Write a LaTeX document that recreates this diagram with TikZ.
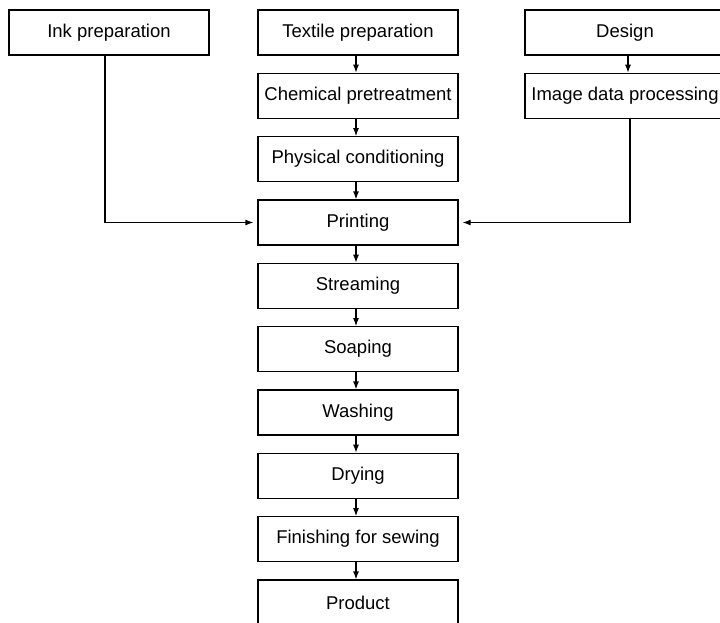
\documentclass[tikz,border=0pt]{standalone}
\usepackage{fontspec}
\setmainfont{Liberation Sans}
\usetikzlibrary{arrows.meta}
\begin{document}
\begin{tikzpicture}[x=1pt,y=-1pt,
  box/.style={draw,line width=1.2pt,minimum width=200pt,minimum height=45pt,inner sep=0pt,font=\fontsize{18.5}{22}\selectfont},
  conn/.style={line width=1.2pt,-{Latex[length=8pt,width=6pt]}}]
\useasboundingbox (0,0) rectangle (720,623);
\fill[white] (0,0) rectangle (720,623);
\node[box] (ink) at (109,32.5) {Ink preparation};
\node[box] (tex) at (358,32.5) {Textile preparation};
\node[box] (des) at (625,32.5) {Design};
\node[box] (img) at (625,95.8) {Image data processing};
\node[box] (chem) at (358,95.8) {Chemical pretreatment};
\node[box] (phys) at (358,159.2) {Physical conditioning};
\node[box] (print) at (358,222.5) {Printing};
\node[box] (stream) at (358,285.8) {Streaming};
\node[box] (soap) at (358,349.2) {Soaping};
\node[box] (wash) at (358,412.5) {Washing};
\node[box] (dry) at (358,475.8) {Drying};
\node[box] (fin) at (358,539.2) {Finishing for sewing};
\node[box] (prod) at (358,602.5) {Product};
\foreach \a/\b in {tex/chem,chem/phys,phys/print,print/stream,stream/soap,soap/wash,wash/dry,dry/fin,fin/prod}
  \draw[conn] ([xshift=-2pt]\a.south) -- ([xshift=-2pt]\b.north);
\draw[conn] ([xshift=3pt]des.south) -- ([xshift=3pt]img.north);
\draw[conn,shorten >=4pt] ([xshift=-4pt]ink.south) |- (print.west);
\draw[conn,shorten >=4pt] ([xshift=5pt]img.south) |- (print.east);
\end{tikzpicture}
\end{document}
